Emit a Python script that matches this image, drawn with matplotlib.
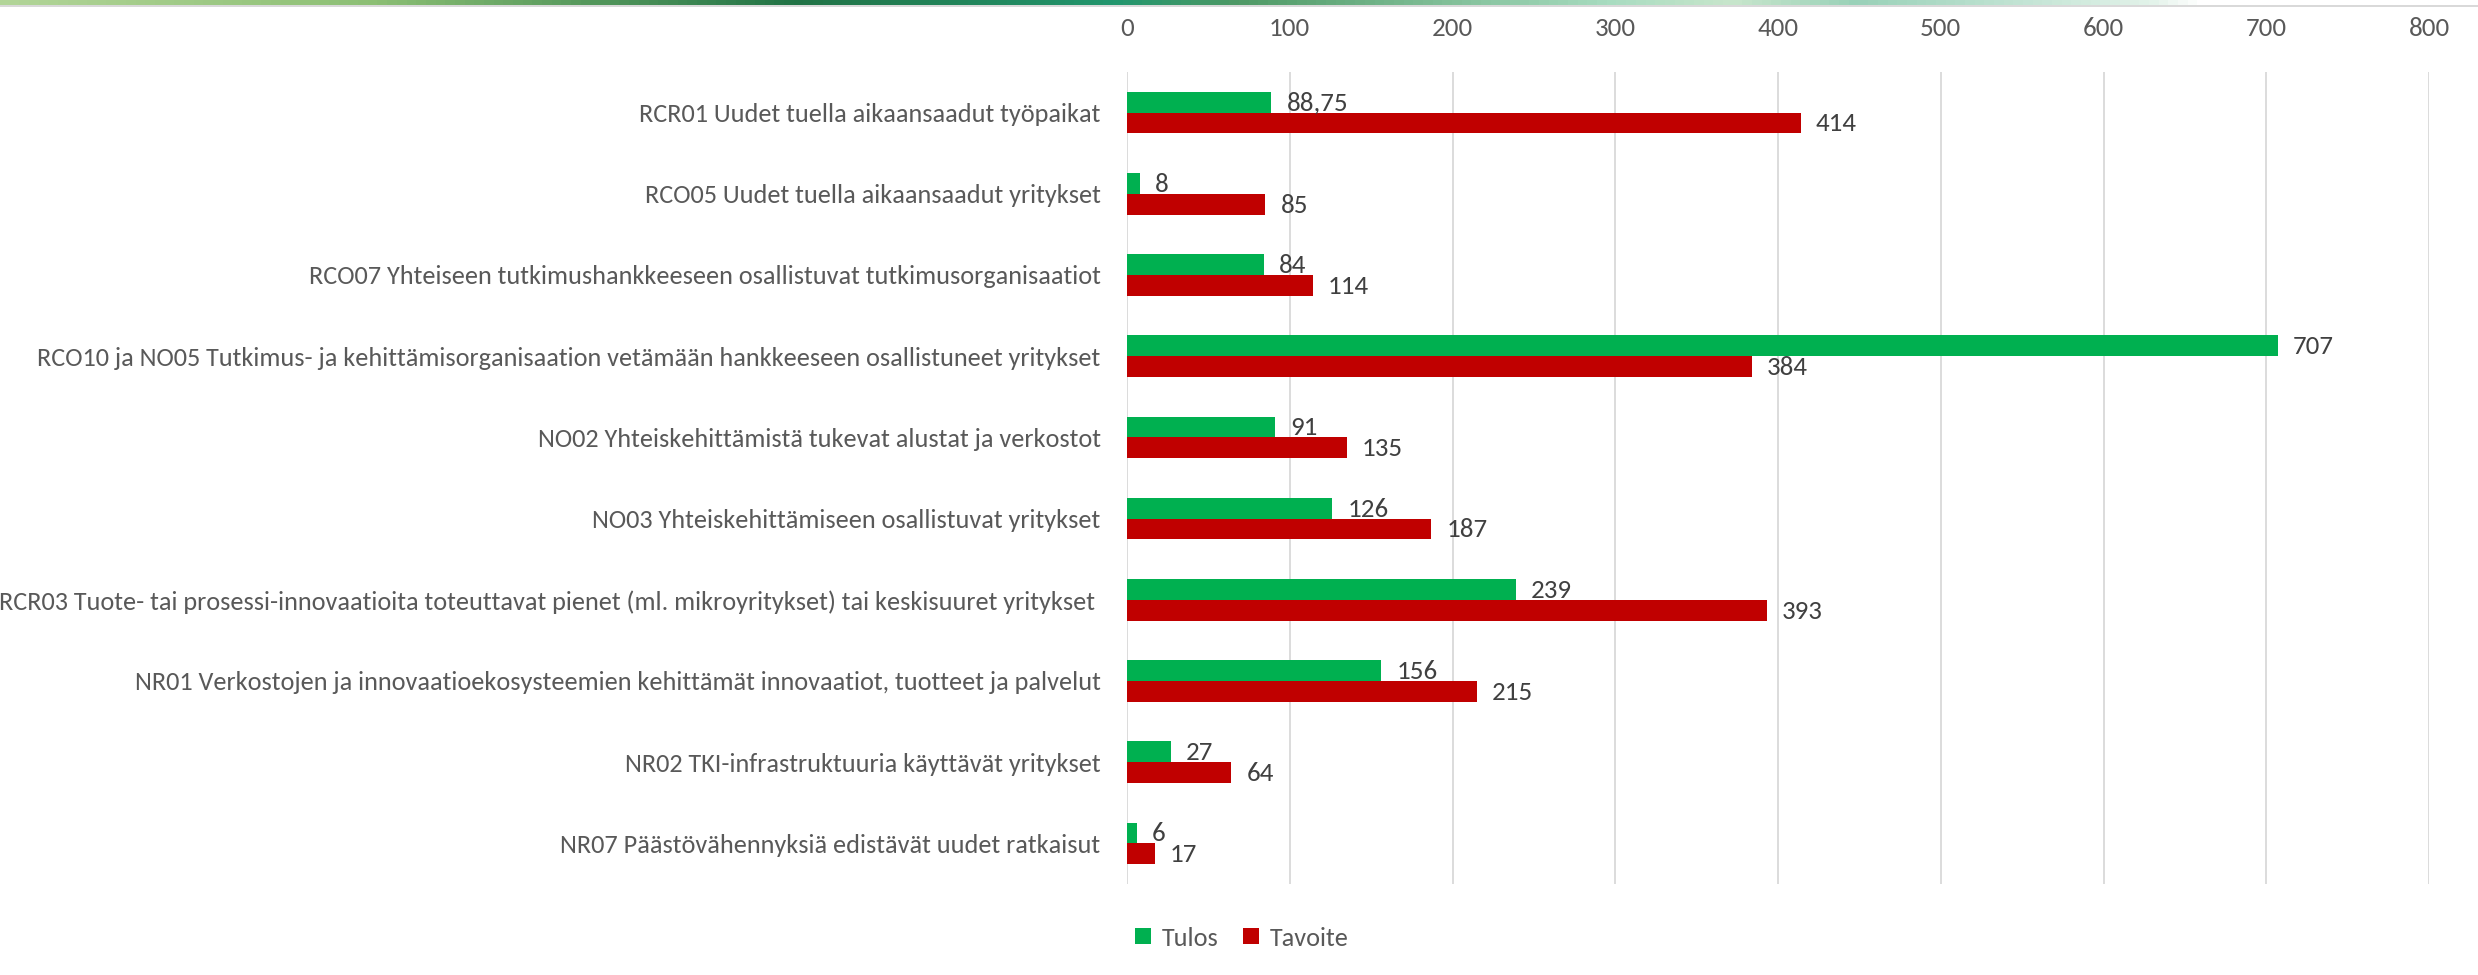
import numpy as np
import matplotlib
matplotlib.use("Agg")
import matplotlib.pyplot as plt
from matplotlib import font_manager
from matplotlib.colors import LinearSegmentedColormap

categories = [
    "RCR01 Uudet tuella aikaansaadut työpaikat",
    "RCO05 Uudet tuella aikaansaadut yritykset",
    "RCO07 Yhteiseen tutkimushankkeeseen osallistuvat tutkimusorganisaatiot",
    "RCO10 ja NO05 Tutkimus- ja kehittämisorganisaation vetämään hankkeeseen osallistuneet yritykset",
    "NO02 Yhteiskehittämistä tukevat alustat ja verkostot",
    "NO03 Yhteiskehittämiseen osallistuvat yritykset",
    "RCR03 Tuote- tai prosessi-innovaatioita toteuttavat pienet (ml. mikroyritykset) tai keskisuuret yritykset ",
    "NR01 Verkostojen ja innovaatioekosysteemien kehittämät innovaatiot, tuotteet ja palvelut",
    "NR02 TKI-infrastruktuuria käyttävät yritykset",
    "NR07 Päästövähennyksiä edistävät uudet ratkaisut",
]
tulos = [88.75, 8, 84, 707, 91, 126, 239, 156, 27, 6]
tavoite = [414, 85, 114, 384, 135, 187, 393, 215, 64, 17]
x_ticks = [0, 100, 200, 300, 400, 500, 600, 700, 800]

GREEN = "#00B050"
RED = "#C00000"
TEXT = "#595959"
VALUE = "#404040"
GRID = "#D9D9D9"

installed = {f.name for f in font_manager.fontManager.ttflist}
base = next((n for n in ("Carlito", "Lato", "Open Sans") if n in installed), "DejaVu Sans")
plt.rcParams["font.family"] = [base, "DejaVu Sans"]

W, H = 2478, 975
fig = plt.figure(figsize=(W / 100, H / 100), dpi=100)
renderer = fig.canvas.get_renderer()

# label size chosen so the widest category label spans ~1100 px
probe_w = []
for c in categories:
    t = fig.text(0, 0, c, fontsize=18)
    probe_w.append(t.get_window_extent(renderer).width)
    t.remove()
label_size = float(np.clip(18 * 1100 / max(probe_w), 14, 21))
num_size = label_size * 1.03

# decorative gradient stripe along the top edge
band = fig.add_axes([0, 1 - 5 / H, 1, 5 / H])
stops = [(0.0, "#b2d598"), (0.15, "#8cbf74"), (0.32, "#217346"), (0.45, "#22966e"),
         (0.50, "#4f9a66"), (0.65, "#a8dcc0"), (0.70, "#c8e6cc"), (0.75, "#99d1b8"),
         (0.87, "#e3f3ea"), (0.889, "#ffffff"), (1.0, "#ffffff")]
cmap = LinearSegmentedColormap.from_list("band", stops)
band.imshow(np.linspace(0, 1, 512)[None, :], aspect="auto", cmap=cmap,
            extent=[0, 1, 0, 1])
band.set_axis_off()
line = fig.add_axes([0, 1 - 7 / H, 1, 2 / H])
line.set_facecolor("#d9d9d9")
line.set_xticks([]); line.set_yticks([])
for s in line.spines.values():
    s.set_visible(False)

left, right = 1127 / W, 2429 / W
top, bottom = 1 - 72 / H, 1 - 884 / H
ax = fig.add_axes([left, bottom, right - left, top - bottom])

n = len(categories)
y = np.arange(n)
h = 0.256
bars_t = ax.barh(y - h / 2, tulos, height=h, color=GREEN, label="Tulos", zorder=3)
bars_v = ax.barh(y + h / 2, tavoite, height=h, color=RED, label="Tavoite", zorder=3)

def fmt(v):
    return f"{v:g}".replace(".", ",")

for bars, vals in ((bars_t, tulos), (bars_v, tavoite)):
    for b, v in zip(bars, vals):
        ax.annotate(fmt(v), (v, b.get_y() + b.get_height() / 2 + 0.012),
                    xytext=(11, 0), textcoords="offset points",
                    va="center", ha="left", fontsize=num_size, color=VALUE)

ax.set_ylim(n - 0.5, -0.5)
ax.set_xlim(0, 800)
ax.set_xticks(x_ticks)
ax.set_xticklabels([str(t) for t in x_ticks])
ax.xaxis.tick_top()
ax.tick_params(axis="x", length=0, pad=23, labelsize=num_size, labelcolor=TEXT)
ax.set_yticks(y)
ax.set_yticklabels(categories)
ax.tick_params(axis="y", length=0, pad=19, labelsize=label_size, labelcolor=TEXT)
ax.grid(axis="x", color=GRID, linewidth=1.3, zorder=0)
for s in ax.spines.values():
    s.set_visible(False)

leg = fig.legend(handles=[bars_t, bars_v], labels=["Tulos", "Tavoite"],
                 loc="center", bbox_to_anchor=(1242 / W, 1 - 938 / H), ncol=2,
                 frameon=False, handlelength=0.58, handleheight=0.58,
                 handletextpad=0.42, columnspacing=0.95,
                 prop={"size": label_size})
for t in leg.get_texts():
    t.set_color(TEXT)

fig.savefig("out.png", dpi=100)
